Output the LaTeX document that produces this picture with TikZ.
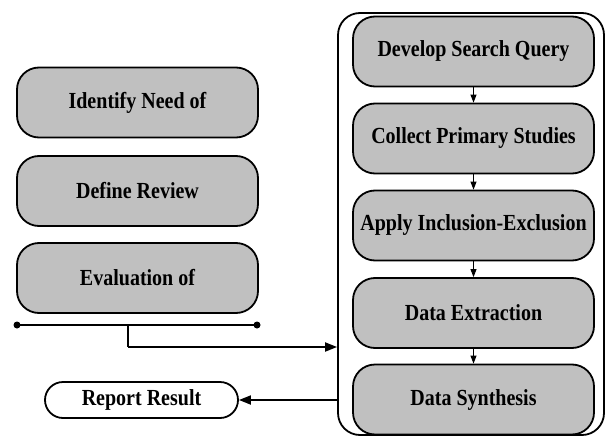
\documentclass[tikz,border=0pt]{standalone}
\usepackage{fontspec}
\setmainfont{Liberation Serif}[FakeStretch=0.87]
\usetikzlibrary{arrows.meta,calc}
\definecolor{boxgray}{RGB}{192,192,192}
\begin{document}
\begin{tikzpicture}[x=1pt,y=-1pt,
  stepbox/.style={draw=black,line width=1.8pt,fill=boxgray,rounded corners=22pt,
    minimum width=241pt,minimum height=70pt,inner sep=0pt,
    font=\fontsize{23}{26}\selectfont\bfseries},
  outbox/.style={draw=black,line width=1.8pt,fill=white,rounded corners=18pt,
    minimum width=193pt,minimum height=36pt,inner sep=0pt,
    font=\fontsize{23}{26}\selectfont\bfseries},
  container/.style={draw=black,line width=1.8pt,rounded corners=22pt,
    minimum width=266pt,minimum height=422pt,inner sep=0pt},
  mainarrow/.style={line width=1.8pt,-{Triangle[length=12pt,width=9pt]}},
  smallarrow/.style={line width=0.9pt,-{Triangle[length=8pt,width=6pt]}},
  dotline/.style={line width=1.8pt},
  dot/.style={circle,fill=black,inner sep=0pt,minimum size=7pt}
]
\useasboundingbox (0,0) rectangle (605,436);
% container
\node[container] (cont) at (471,224) {};
% left boxes
\node[stepbox] (idn) at (137.5,102.5) {Identify Need of};
\node[stepbox] (def) at (137.5,191) {Define Review};
\node[stepbox] (eva) at (137.5,278) {Evaluation of};
% right boxes
\node[stepbox] (dev) at (473.5,51.5) {Develop Search Query};
\node[stepbox] (col) at (473.5,138.5) {Collect Primary Studies};
\node[stepbox] (app) at (473.5,225.5) {Apply Inclusion-Exclusion};
\node[stepbox] (ext) at (473.5,313) {Data Extraction};
\node[stepbox] (syn) at (473.5,399.5) {Data Synthesis};
% report
\node[outbox] (rep) at (141.5,400) {Report Result};
% inner arrows
\draw[smallarrow] (dev) -- (col);
\draw[smallarrow] (col) -- (app);
\draw[smallarrow] (app) -- (ext);
\draw[smallarrow] (ext) -- (syn);
% dot line
\node[dot] (dl) at (17,325) {};
\node[dot] (dr) at (257,325) {};
\draw[dotline] (dl.center) -- (dr.center);
\coordinate (mid) at (128,325);
\coordinate (bend) at (128,347);
\draw[line width=1.8pt] (mid) -- (bend);
\draw[mainarrow] (bend) -- (bend -| cont.west);
% report arrow
\draw[mainarrow] (rep.east -| cont.west) -- (rep.east);
\end{tikzpicture}
\end{document}
